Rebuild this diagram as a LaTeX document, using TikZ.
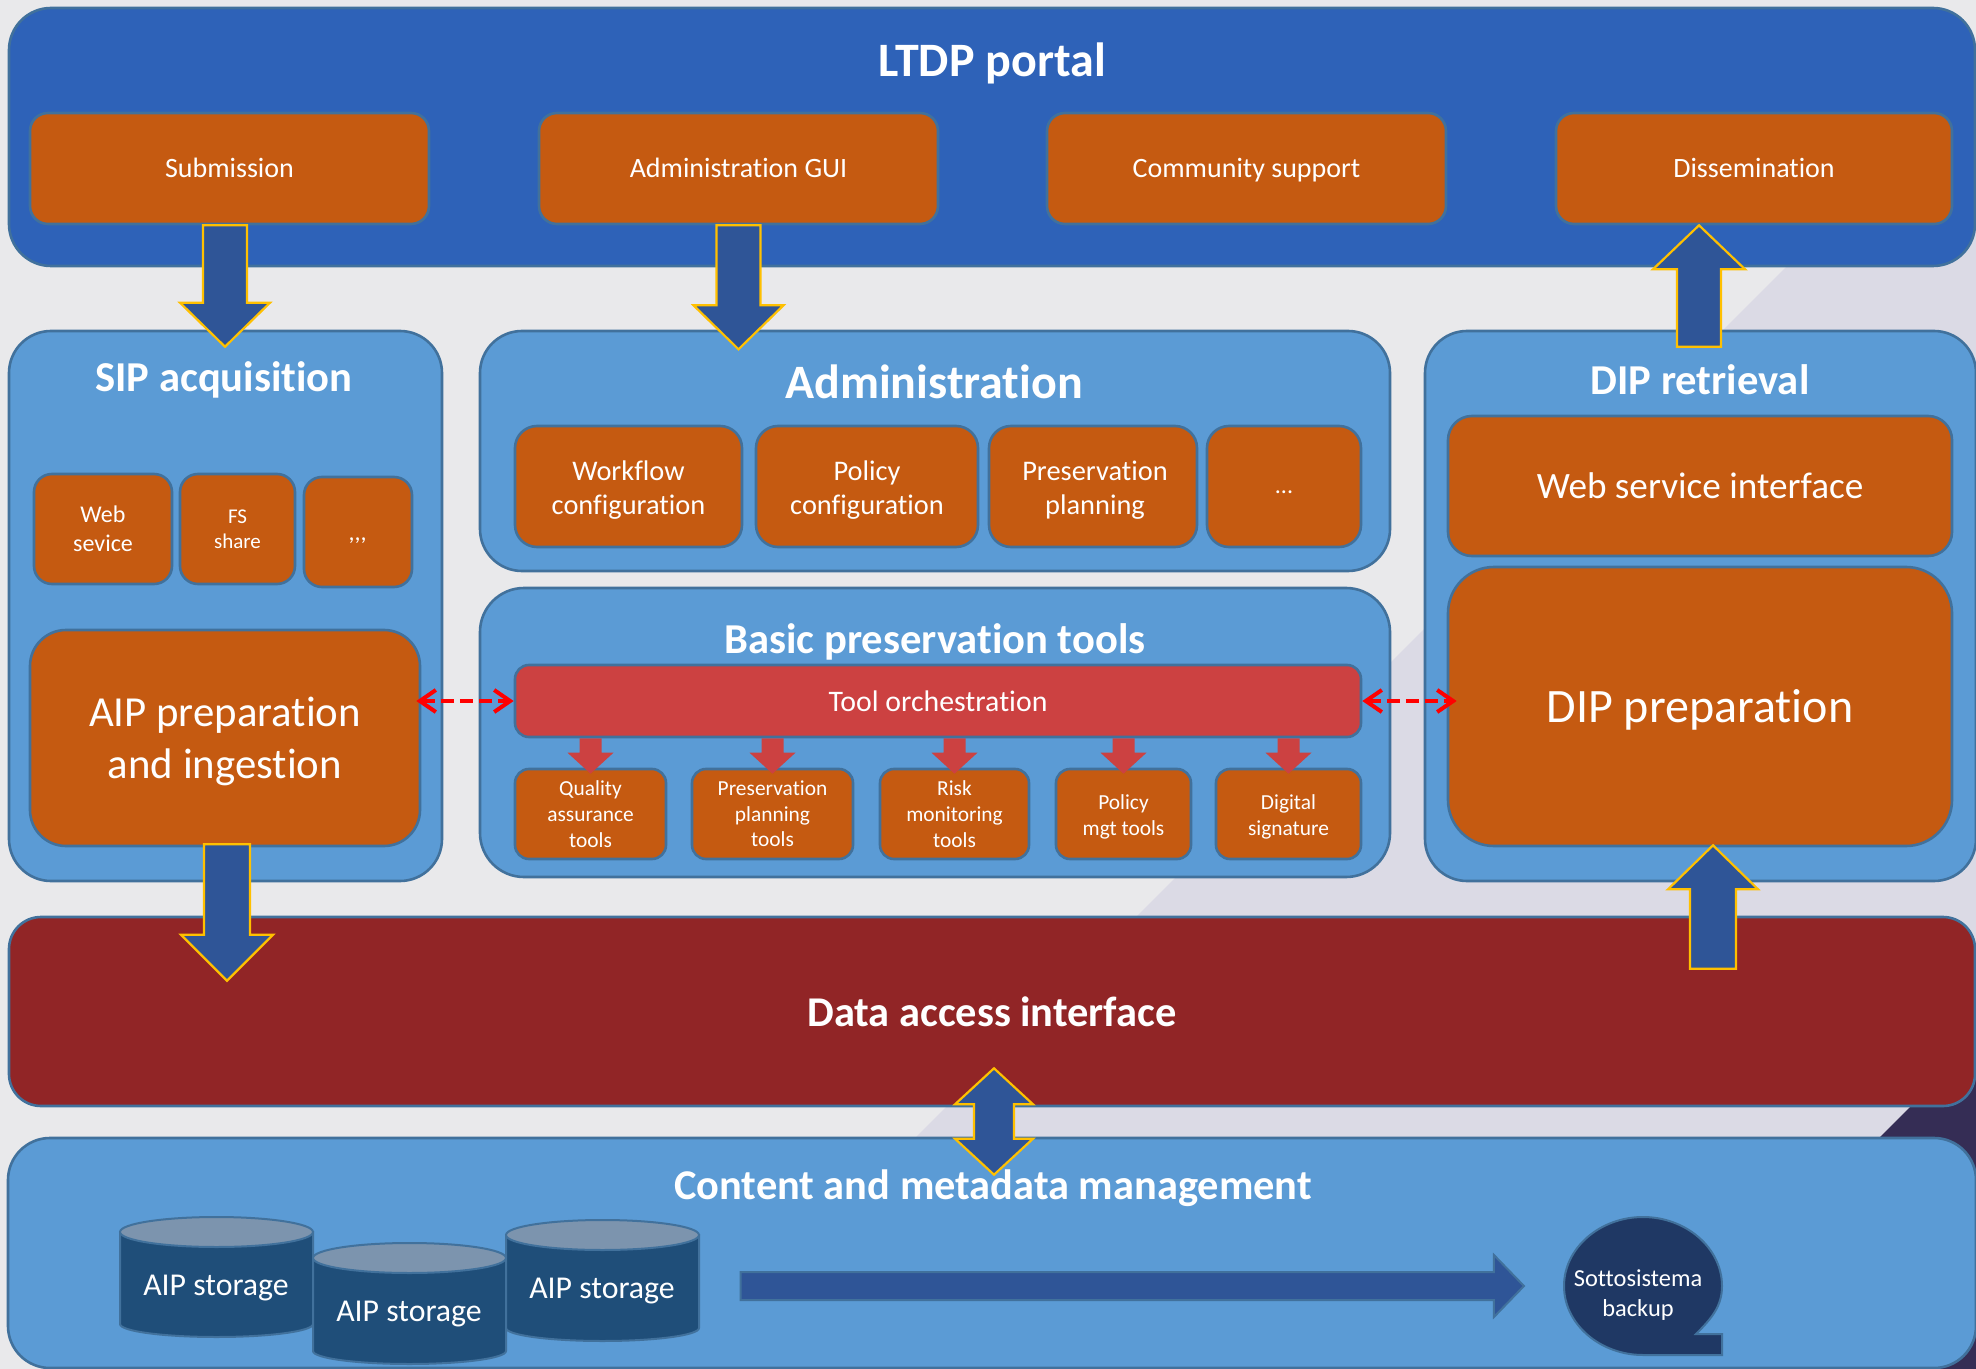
\documentclass[tikz,border=0pt]{standalone}
\usepackage{fontspec}
\setmainfont[Ligatures=CommonOff]{Carlito}
\usetikzlibrary{calc,arrows.meta}
\definecolor{bgc}{HTML}{E9E9EB}
\definecolor{bandc}{HTML}{DBDAE5}
\definecolor{darkc}{HTML}{352D55}
\definecolor{linec}{HTML}{41719C}
\definecolor{lightb}{HTML}{5B9BD5}
\definecolor{portalb}{HTML}{2E62B8}
\definecolor{orangec}{HTML}{C55A11}
\definecolor{brick}{HTML}{912526}
\definecolor{toolred}{HTML}{CC4141}
\definecolor{cylc}{HTML}{1F4E79}
\definecolor{cyltop}{HTML}{7C94AE}
\definecolor{tapec}{HTML}{1F3864}
\definecolor{arrowc}{HTML}{2F5597}
\definecolor{yell}{HTML}{FFC000}
\newcommand{\fs}[1]{\pgfmathsetmacro{\fsl}{#1*1.2}\fontsize{#1}{\fsl}\selectfont}
\newcommand{\tp}[1]{\rule{0pt}{#1pt}}
\newcommand{\lbox}[7][]{%
  \pgfmathsetmacro{\bw}{(#5-#3)*0.5}\pgfmathsetmacro{\bh}{(#6-#4)*0.5}%
  \node[#1,minimum width=\bw pt,minimum height=\bh pt] (#2) at ({(#3+#5)/2},{(#4+#6)/2}) {#7};}
\newcommand{\blockarrow}[6]{%
  \coordinate (hh) at ($(#3)!#6!(#2)$);
  \draw[#1] ($(#2)!#4!90:(#3)$) -- ($(hh)!#4!90:(#3)$) -- ($(hh)!#5!90:(#3)$) -- (#3)
    -- ($(hh)!#5!-90:(#3)$) -- ($(hh)!#4!-90:(#3)$) -- ($(#2)!#4!-90:(#3)$) -- cycle;}
\newcommand{\cyl}[7]{%
  \draw[cylbody] (#2,#3+15) -- (#2,#5-13) arc[start angle=180,end angle=0,x radius={(#4-#2)/2},y radius=13]
    -- (#4,#3+15) -- cycle;
  \draw[cyltopstyle] ({(#2+#4)/2},#3+15) ellipse[x radius={(#4-#2)/2},y radius=15];
  \node[txt,font=\fs{15.9}] (#1) at (#6,#7) {AIP storage};}
\tikzset{
  txt/.style={text=white,align=center,inner sep=0pt},
  panel/.style={draw=linec,line width=1.3pt,fill=lightb,txt},
  obox/.style={draw=linec,line width=1.3pt,fill=orangec,txt},
  oneline/.style={text height=12.5pt,text depth=3pt},
  blk/.style={draw=yell,line width=1.1pt,fill=arrowc,line join=miter},
  redblk/.style={fill=toolred,draw=none},
  reddash/.style={draw=red,line width=2pt,dash pattern=on 6.5pt off 3pt,
     <->,>={Straight Barb[length=8pt,width=11pt,line width=2pt]}},
  cylbody/.style={draw=linec,line width=1pt,fill=cylc},
  cyltopstyle/.style={draw=linec,line width=1pt,fill=cyltop},
  title/.style={txt,font=\bfseries\fs{#1}},
}
\begin{document}
\begin{tikzpicture}[x=0.5pt,y=-0.5pt]
\useasboundingbox (0,0) rectangle (1976,1369);
\fill[bgc] (0,0) rectangle (1976,1369);
\fill[bandc] (1976,77) -- (1976,1041) -- (1648,1369) -- (684,1369) -- cycle;
\fill[darkc] (1976,1041) -- (1976,1369) -- (1648,1369) -- cycle;

% panels
\lbox[panel,rounded corners=21pt,fill=portalb]{portal}{9}{8}{1975}{266}{}
\lbox[panel,rounded corners=21pt]{sip}{9}{331}{442}{881}{}
\lbox[panel,rounded corners=21pt]{adm}{480}{331}{1390}{571}{}
\lbox[panel,rounded corners=22pt]{basic}{480}{588}{1390}{877}{}
\lbox[panel,rounded corners=21pt]{dipr}{1425}{331}{1976}{881}{}
\lbox[panel,rounded corners=16pt,fill=brick,font=\bfseries\fs{21.2}]{data}{9}{917}{1975}{1106}{Data access interface}
\lbox[panel,rounded corners=21pt]{content}{8}{1138}{1976}{1368}{}

% portal children
\lbox[obox,oneline,rounded corners=9pt,font=\fs{14}]{sub}{30}{113}{429}{224}{Submission}
\lbox[obox,oneline,rounded corners=9pt,font=\fs{14}]{gui}{539}{113}{938}{224}{Administration GUI}
\lbox[obox,oneline,rounded corners=9pt,font=\fs{14}]{comm}{1047}{113}{1446}{224}{Community support}
\lbox[obox,oneline,rounded corners=9pt,font=\fs{14}]{diss}{1556}{113}{1952}{224}{Dissemination}

% SIP children
\lbox[obox,rounded corners=9pt,font=\fs{12}]{web}{34}{474}{172}{584}{Web\\sevice}
\lbox[obox,rounded corners=9pt,font=\fs{10.5}]{fs}{180}{474}{295}{584}{FS\\share}
\lbox[obox,rounded corners=9pt,font=\itshape\fs{12}]{dots}{304}{477}{412}{587}{\tp{10}{,}{,}{,}}
\lbox[obox,rounded corners=18pt,font=\fs{21.4}]{aip}{30}{630}{420}{846}{\tp{18}AIP preparation\\and ingestion}

% administration children
\lbox[obox,rounded corners=11pt,font=\fs{14.2}]{wf}{515}{426}{742}{547}{\tp{13}Workflow\\configuration}
\lbox[obox,rounded corners=11pt,font=\fs{14.2}]{pol}{756}{426}{978}{547}{\tp{13}Policy\\configuration}
\lbox[obox,rounded corners=11pt,font=\fs{14.2}]{pres}{989}{426}{1197}{547}{\tp{13}\hspace{2pt}Preservation\\\hspace{2pt}planning}
\lbox[obox,rounded corners=11pt,font=\fs{12}]{more}{1207}{426}{1361}{547}{\tp{7.5}...}

% tools
\lbox[obox,rounded corners=7pt,fill=toolred,font=\fs{14.9}]{tool}{515}{665}{1361}{737}{Tool orchestration}
\lbox[obox,rounded corners=7pt,font=\fs{10.7}]{q1}{515}{769}{666}{859}{Quality\\assurance\\tools}
\lbox[obox,rounded corners=7pt,font=\fs{10.7}]{q2}{692}{769}{853}{859}{Preservation\\planning\\tools}
\lbox[obox,rounded corners=7pt,font=\fs{10.7}]{q3}{880}{769}{1029}{859}{Risk\\monitoring\\tools}
\lbox[obox,rounded corners=7pt,font=\fs{10.7}]{q4}{1056}{769}{1191}{859}{\tp{10.5}Policy\\mgt tools}
\lbox[obox,rounded corners=7pt,font=\fs{10.7}]{q5}{1216}{769}{1361}{859}{\tp{10.5}Digital\\signature}

% DIP children
\lbox[obox,rounded corners=12pt,font=\fs{18.6}]{wsi}{1448}{416}{1952}{556}{Web service interface}
\lbox[obox,rounded corners=23pt,font=\fs{24}]{dipp}{1448}{567}{1952}{846}{\tp{20}DIP preparation}

% red tool arrows
\foreach \q in {q1,q2,q3,q4,q5}{
  \coordinate (s\q) at (\q.north |- tool.south);
  \coordinate (e\q) at ($(\q.north)+(0,6)$);
  \blockarrow{redblk}{s\q}{e\q}{5.5pt}{11.5pt}{10.5pt}
}

% cylinders
\cyl{st1}{120}{1217}{313}{1337}{216}{1288}
\cyl{st2}{313}{1243}{506}{1364}{409}{1314}
\cyl{st3}{506}{1220}{699}{1341}{602}{1291}

% backup shape and arrow
\draw[draw=linec,line width=1pt,fill=tapec]
  (1696,1334) .. controls (1712,1318) and (1722,1306) .. (1722,1286)
  .. controls (1722,1248) and (1686,1217) .. (1643,1217)
  .. controls (1600,1217) and (1564,1248) .. (1564,1286)
  .. controls (1564,1324) and (1600,1355) .. (1643,1355)
  -- (1722,1355) -- (1722,1334) -- cycle;
\node[txt,font=\fs{12.2}] (backup) at (1638,1295) {Sottosistema\\backup};
\coordinate (bkA) at ($(st3.east)+(65.5,-5)$);
\coordinate (bkB) at ($(backup.west)+(-49.5,-9)$);
\blockarrow{draw=linec,line width=1pt,fill=arrowc}{bkA}{bkB}{7pt}{15.5pt}{15pt}

% yellow block arrows
\coordinate (a1s) at ($(sub.south)+(-4.5,0)$);
\coordinate (a1e) at ($(sip.north)+(-0.5,17)$);
\blockarrow{blk}{a1s}{a1e}{11pt}{22.5pt}{22pt}
\coordinate (a2e) at ($(gui.south)+(0,124)$);
\blockarrow{blk}{gui.south}{a2e}{11pt}{22.5pt}{22pt}
\coordinate (a3s) at ($(dipr.north)+(-1.5,17)$);
\coordinate (a3e) at ($(diss.south)+(-55,0)$);
\blockarrow{blk}{a3s}{a3e}{11pt}{23pt}{22pt}
\coordinate (a4s) at ($(aip.south)+(2,-3)$);
\coordinate (a4e) at ($(data.north)+(-765,65)$);
\blockarrow{blk}{a4s}{a4e}{11.5pt}{23pt}{23pt}
\coordinate (a5s) at ($(data.north)+(721,53)$);
\coordinate (a5e) at ($(dipp.south)+(13,-2)$);
\blockarrow{blk}{a5s}{a5e}{11.5pt}{22.5pt}{22pt}
% double arrow data <-> content
\coordinate (a6s) at ($(data.south)+(2,-39)$);
\coordinate (a6e) at ($(content.north)+(2,38)$);
\draw[blk] (a6s) -- ($(a6s)+(39,36)$) -- ($(a6s)+(20,36)$) -- ($(a6e)+(20,-36)$) -- ($(a6e)+(39,-36)$)
  -- (a6e) -- ($(a6e)+(-39,-36)$) -- ($(a6e)+(-20,-36)$) -- ($(a6s)+(-20,36)$) -- ($(a6s)+(-39,36)$) -- cycle;

% dashed red connectors
\coordinate (d1) at ($(tool.west -| aip.east)+(-5,0)$);
\coordinate (d2) at ($(tool.east -| dipp.west)+(10,0)$);
\draw[reddash] (d1) -- (tool.west);
\draw[reddash] (tool.east) -- (d2);

% titles
\node[title=24] (tportal) at (992,63) {LTDP portal};
\node[title=21.3] (tsip) at (224,380) {SIP acquisition};
\node[title=24] (tadm) at (934,382) {Administration};
\node[title=21.3] (tbasic) at (935,642) {Basic preservation tools};
\node[title=21.3] (tdip) at (1700,380) {DIP retrieval};
\node[title=21.2] (tcontent) at (993,1188) {Content and metadata management};
\end{tikzpicture}
\end{document}
